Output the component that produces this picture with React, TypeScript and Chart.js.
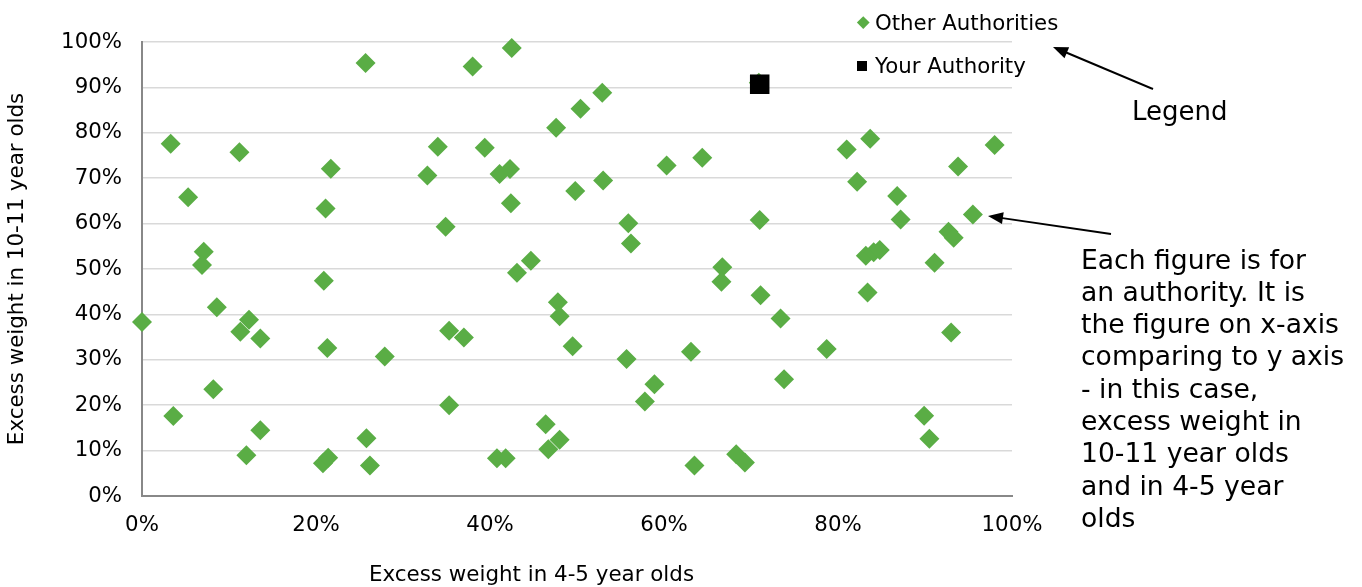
import React, { useEffect, useRef } from 'react';
import { Chart, registerables } from 'chart.js';

Chart.register(...registerables);

// ---------- data (percent) ----------
const otherX = [
  0.0, 3.3, 3.6, 5.3, 7.1, 6.9, 8.6, 8.2, 11.2, 11.3, 12.3, 13.6, 12.0, 13.6,
  21.7, 21.1, 20.9, 21.3, 20.8, 21.4, 25.7, 38.0, 42.5, 52.9, 50.4, 47.6, 34.0,
  39.4, 32.8, 41.1, 42.3, 60.3, 49.8, 53.0, 42.4, 34.9, 55.9, 56.2, 44.7, 43.1,
  47.8, 48.0, 49.5, 35.3, 37.0, 27.9, 55.7, 58.9, 57.8, 35.3, 25.8, 26.2, 46.4,
  48.0, 46.7, 40.8, 41.8, 70.9, 64.4, 81.0, 83.7, 98.0, 93.8, 82.2, 86.8, 71.0,
  87.2, 95.5, 92.7, 93.3, 83.2, 84.1, 84.8, 91.1, 66.7, 66.6, 71.1, 83.4, 73.4,
  93.0, 63.1, 78.7, 73.8, 89.9, 90.5, 63.5, 68.3, 69.3,
];
const otherY = [
  38.3, 77.6, 17.6, 65.8, 53.8, 50.9, 41.6, 23.5, 75.7, 36.2, 38.8, 34.7, 9.0, 14.5,
  72.1, 63.3, 47.4, 32.6, 7.2, 8.4, 95.4, 94.6, 98.7, 88.8, 85.3, 81.1, 76.9,
  76.7, 70.6, 70.9, 72.0, 72.8, 67.2, 69.5, 64.5, 59.3, 60.1, 55.6, 51.8, 49.2,
  42.7, 39.6, 33.0, 36.4, 34.9, 30.7, 30.2, 24.6, 20.8, 20.0, 12.7, 6.7, 15.8,
  12.4, 10.3, 8.3, 8.3, 91.0, 74.5, 76.3, 78.7, 77.3, 72.6, 69.2, 66.1, 60.8,
  60.9, 62.0, 58.2, 56.9, 52.9, 53.7, 54.2, 51.4, 50.4, 47.2, 44.2, 44.8, 39.1,
  36.0, 31.8, 32.4, 25.7, 17.7, 12.6, 6.7, 9.2, 7.4,
];
const yourX = [71.0];
const yourY = [90.7];

const xTickValues = [0, 20, 40, 60, 80, 100];
const yTickValues = [0, 10, 20, 30, 40, 50, 60, 70, 80, 90, 100];

const seriesLabels = ['Other Authorities', 'Your Authority'];
const xTitle = 'Excess weight in 4-5 year olds';
const yTitle = 'Excess weight in 10-11 year olds';
const calloutLegend = 'Legend';
const calloutLines = [
  'Each figure is for',
  'an authority. It is',
  'the figure on x-axis',
  'comparing to y axis',
  '- in this case,',
  'excess weight in',
  '10-11 year olds',
  'and in 4-5 year',
  'olds',
];

// ---------- styles ----------
const FONT = '"DejaVu Sans", Verdana, sans-serif';
const GREEN = '#5aad45';
const W = 1362;
const H = 587;
const FS = 21.3;

function arrowParts(sx: number, sy: number, tx: number, ty: number, len = 15, wid = 12) {
  const dx = tx - sx;
  const dy = ty - sy;
  const d = Math.hypot(dx, dy);
  const ux = dx / d;
  const uy = dy / d;
  const bx = tx - ux * len;
  const by = ty - uy * len;
  const nx = -uy * (wid / 2);
  const ny = ux * (wid / 2);
  return {
    line: { x1: sx, y1: sy, x2: bx + ux * 2, y2: by + uy * 2 },
    head: `${tx},${ty} ${bx + nx},${by + ny} ${bx - nx},${by - ny}`,
  };
}

export default function App() {
  const ref = useRef<HTMLCanvasElement | null>(null);

  useEffect(() => {
    if (!ref.current) return;
    const chart = new Chart(ref.current, {
      type: 'scatter',
      data: {
        datasets: [
          {
            label: seriesLabels[1],
            data: yourX.map((x, i) => ({ x, y: yourY[i] })),
            pointStyle: 'rect',
            pointRadius: 13.8,
            pointHoverRadius: 13.8,
            backgroundColor: '#000000',
            borderWidth: 0,
            clip: false,
            order: 0,
          } as any,
          {
            label: seriesLabels[0],
            data: otherX.map((x, i) => ({ x, y: otherY[i] })),
            pointStyle: 'rectRot',
            pointRadius: 10,
            pointHoverRadius: 10,
            backgroundColor: GREEN,
            borderWidth: 0,
            clip: false,
            order: 1,
          } as any,
        ],
      },
      options: {
        animation: false,
        responsive: false,
        maintainAspectRatio: false,
        events: [],
        layout: { padding: { left: 0, right: W - 1012, top: 42, bottom: 0 } },
        plugins: {
          legend: { display: false },
          tooltip: { enabled: false },
        },
        scales: {
          x: {
            type: 'linear',
            min: 0,
            max: 100,
            afterBuildTicks: (s: any) => {
              s.ticks = xTickValues.map((v) => ({ value: v }));
            },
            afterFit: (s: any) => {
              s.height = H - 496;
            },
            ticks: {
              callback: (v: any) => v + '%',
              font: { family: FONT, size: FS },
              color: '#000000',
              padding: 17,
              maxRotation: 0,
              autoSkip: false,
            },
            grid: { display: true, color: 'rgba(0,0,0,0)', drawTicks: false },
            border: { display: true, color: '#888888', width: 2 },
          },
          y: {
            type: 'linear',
            min: 0,
            max: 100,
            afterBuildTicks: (s: any) => {
              s.ticks = yTickValues.map((v) => ({ value: v }));
            },
            afterFit: (s: any) => {
              s.width = 142;
            },
            ticks: {
              callback: (v: any) => v + '%',
              font: { family: FONT, size: FS },
              color: '#000000',
              padding: 20,
              autoSkip: false,
            },
            grid: { color: '#d9d9d9', lineWidth: 1.5, drawTicks: false },
            border: { display: true, color: '#888888', width: 2 },
            title: {
              display: true,
              text: yTitle,
              font: { family: FONT, size: 21.4 },
              color: '#000000',
              padding: { top: 5, bottom: 0 },
            },
          },
        },
      } as any,
    });
    return () => chart.destroy();
  }, []);

  const a1 = arrowParts(1153, 89, 1053, 47);
  const a2 = arrowParts(1111, 234, 988, 216);

  const textBase: React.CSSProperties = {
    position: 'absolute',
    fontFamily: FONT,
    color: '#000',
    whiteSpace: 'nowrap',
    margin: 0,
  };

  return (
    <div style={{ position: 'fixed', left: 0, top: 0, width: W, height: H, background: '#fff', overflow: 'hidden' }}>
      <canvas ref={ref} width={W} height={H} style={{ display: 'block', width: W, height: H }} />

      {/* legend */}
      <div
        style={{
          position: 'absolute',
          left: 863 - 4.25,
          top: 22.7 - 4.25,
          width: 8.5,
          height: 8.5,
          background: GREEN,
          transform: 'rotate(45deg)',
        }}
      />
      <div style={{ ...textBase, left: 875, top: 9.8, fontSize: FS, lineHeight: '25.6px' }}>{seriesLabels[0]}</div>
      <div
        style={{
          position: 'absolute',
          left: 862 - 5,
          top: 65.7 - 5,
          width: 10,
          height: 10,
          background: '#000',
        }}
      />
      <div style={{ ...textBase, left: 875, top: 53.1, fontSize: FS, lineHeight: '25.6px' }}>{seriesLabels[1]}</div>

      {/* x axis title */}
      <div style={{ ...textBase, left: 369, top: 560.8, fontSize: 21.4, lineHeight: '25.7px' }}>{xTitle}</div>

      {/* callouts */}
      <div style={{ ...textBase, left: 1132, top: 96.4, fontSize: 26, lineHeight: '31.2px' }}>{calloutLegend}</div>
      <div style={{ ...textBase, left: 1081, top: 243.5, fontSize: 26.6, lineHeight: '32.3px' }}>
        {calloutLines.map((l, i) => (
          <div key={i}>{l}</div>
        ))}
      </div>

      <svg
        width={W}
        height={H}
        style={{ position: 'absolute', left: 0, top: 0, pointerEvents: 'none' }}
      >
        {[a1, a2].map((a, i) => (
          <g key={i}>
            <line {...a.line} stroke="#000" strokeWidth={2} />
            <polygon points={a.head} fill="#000" />
          </g>
        ))}
      </svg>
    </div>
  );
}
